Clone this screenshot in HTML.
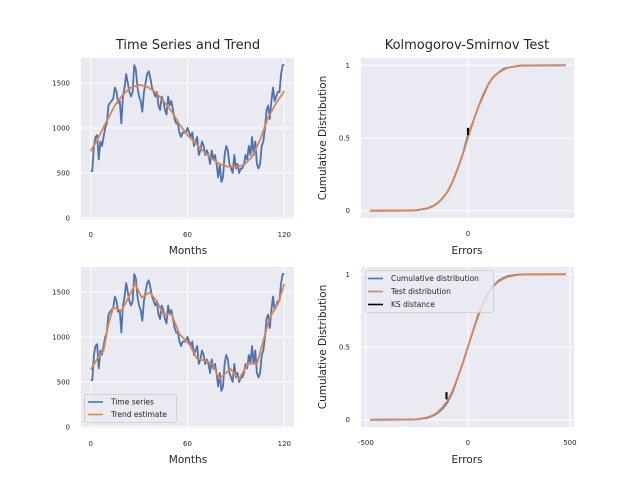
<!DOCTYPE html>
<html><head><meta charset="utf-8"><style>
html,body{margin:0;padding:0;background:#fff;}
svg{display:block;font-family:"DejaVu Sans","Liberation Sans",sans-serif;}
</style></head><body>
<svg id="fig" width="640" height="480" viewBox="0 0 640 480"></svg>
<script>
// ---- data ----
const months = [];
for (let i = 0; i <= 120; i++) months.push(i);
const seriesValues = [
520,520,800,900,920,650,850,800,900,1000,
1050,1250,1280,1300,1330,1450,1400,1280,1300,1050,
1350,1450,1600,1500,1400,1350,1400,1700,1650,1450,
1350,1300,1180,1400,1500,1600,1630,1550,1450,1400,
1350,1400,1250,1200,1350,1300,1200,1150,1350,1250,
1300,1200,1100,1050,1050,950,900,950,950,950,
1000,950,900,950,800,850,900,700,750,850,
800,700,750,700,600,750,650,700,600,450,
600,400,450,700,800,750,600,550,500,700,
550,600,500,550,550,600,700,650,800,700,
900,700,850,600,550,600,800,850,1000,1200,
1250,1100,1300,1450,1300,1350,1400,1400,1600,1700,
1700];
const trendMonths = [0,5,10,15,20,25,30,35,40,45,50,55,60,65,70,75,80,85,90,95,100,105,110,115,120];
const trendValues = [740,900,1080,1250,1370,1450,1480,1460,1400,1300,1190,1040,920,830,740,660,600,570,570,590,680,870,1120,1280,1410];
const trend2Months = [0,4,8,11,14,19,23.5,27.5,31.6,36.7,40.8,45,50,55,61,66,71,75.5,79.6,86.7,92,98,103,107,111,116,120];
const trend2Values = [633,756,848,1144,1330,1292,1440,1590,1440,1496,1404,1255,1255,1033,922,756,737,700,533,644,533,718,700,960,1218,1367,1590];
const tsYTicks = [0,500,1000,1500];
const tsXTicks = [0,60,120];
const ksX = [-480,-300,-250,-200,-175,-150,-125,-100,-75,-50,-25,0,25,50,75,100,125,150,175,200,250,300,480];
const ksEmp1 = [0,0.001,0.004,0.016,0.03,0.05,0.085,0.13,0.2,0.29,0.39,0.52,0.61,0.71,0.79,0.87,0.92,0.95,0.975,0.985,0.997,0.999,1];
const ksTest = [0,0.001,0.003,0.015,0.028,0.05,0.085,0.13,0.2,0.29,0.39,0.5,0.61,0.71,0.8,0.87,0.92,0.95,0.97,0.985,0.997,0.999,1];
const ksEmp2 = [0,0.001,0.003,0.012,0.025,0.045,0.075,0.12,0.19,0.29,0.39,0.5,0.61,0.72,0.8,0.87,0.92,0.955,0.975,0.99,0.998,1,1];
const ksDist1 = [0, 0.52, 0.57];
const ksDist2 = [-105, 0.14, 0.19];
const ksYTicks = [0,0.5,1];
const ksYLabels = ["0","0.5","1"];
const ksXTicksTop = [0];
const ksXTicksBot = [-500,0,500];

// ---- helpers ----
const NS = "http://www.w3.org/2000/svg";
const fig = document.getElementById("fig");
function mk(tag, attrs, parent){
  const e = document.createElementNS(NS, tag);
  for (const k in attrs) e.setAttribute(k, attrs[k]);
  (parent||fig).appendChild(e);
  return e;
}
function axes(name, x0, y0, w, h, xmin, xmax, ymin, ymax){
  const g = mk("g", {});
  
  
  const bg = mk("rect", {x:x0, y:y0, width:w, height:h, fill:"#eaeaf2"}, g);
  
  
  return {g, sx: v => x0 + (v - xmin) / (xmax - xmin) * w, sy: v => y0 + h - (v - ymin) / (ymax - ymin) * h, x0, y0, w, h};
}
function grid(ax, xt, yt, xl, yl){
  xt.forEach((t,i) => {
    const l = mk("line", {x1:ax.sx(t), x2:ax.sx(t), y1:ax.y0, y2:ax.y0+ax.h, stroke:"#fff", "stroke-width":1}, ax.g);
    
    
    const tx = mk("text", {x:ax.sx(t), y:ax.y0+ax.h+18, "font-size":7, fill:"#262626", "text-anchor":"middle"}, ax.g);
    tx.textContent = xl ? xl[i] : String(t);
    
    
  });
  yt.forEach((t,i) => {
    const l = mk("line", {x1:ax.x0, x2:ax.x0+ax.w, y1:ax.sy(t), y2:ax.sy(t), stroke:"#fff", "stroke-width":1}, ax.g);
    
    
    const tx = mk("text", {x:ax.x0-11, y:ax.sy(t)+2.5, "font-size":7, fill:"#262626", "text-anchor":"end"}, ax.g);
    tx.textContent = yl ? yl[i] : String(t);
    
    
  });
}
function line(ax, xs, ys, color, name, w){
  const d = xs.map((x,i) => (i ? "L" : "M") + ax.sx(x).toFixed(2) + "," + ax.sy(ys[i]).toFixed(2)).join("");
  const p = mk("path", {d, fill:"none", stroke:color, "stroke-width":w||1.8, "stroke-linejoin":"round"}, ax.g);
  
  
}
function text(str, x, y, size, name, rot){
  const t = mk("text", {x, y, "font-size":size, fill:"#262626", "text-anchor":"middle"});
  if (rot) t.setAttribute("transform", "rotate(-90 " + x + " " + y + ")");
  t.textContent = str;
  
  
}
const BLUE = "#4c72b0", ORANGE = "#dd8452";

// ---- top-left ----
const a1 = axes("time-series-top-axes", 81, 58, 213, 161, -6, 126, -12, 1778);
grid(a1, tsXTicks, tsYTicks);
line(a1, months, seriesValues, BLUE, "time-series-line");
line(a1, trendMonths, trendValues, ORANGE, "trend-line");
text("Time Series and Trend", 188, 49, 13, "title-time-series");
text("Months", 188, 254, 10.5, "x-axis-title");

// ---- bottom-left ----
const a3 = axes("time-series-bottom-axes", 81, 267, 213, 161, -6, 126, -12, 1778);
grid(a3, tsXTicks, tsYTicks);
line(a3, months, seriesValues, BLUE, "time-series-line");
line(a3, trend2Months, trend2Values, ORANGE, "trend-estimate-line");
text("Months", 188, 463, 10.5, "x-axis-title");
{
  const lg = mk("g", {});  
  mk("rect", {x:84.5, y:394.5, width:92, height:28, rx:2, fill:"#eaeaf2", "fill-opacity":0.8, stroke:"#cccccc", "stroke-width":0.8}, lg);
  [["Time series",BLUE,404.5],["Trend estimate",ORANGE,417]].forEach(e => {
    const ln = mk("line", {x1:88, x2:103, y1:e[2]-2.5, y2:e[2]-2.5, stroke:e[1], "stroke-width":1.6}, lg);
     
    const t = mk("text", {x:111, y:e[2], "font-size":7.5, fill:"#262626"}, lg);
    t.textContent = e[0];
     
  });
}

// ---- top-right ----
const a2 = axes("ks-top-axes", 361, 58, 213, 160, -524, 520, -0.05, 1.05);
grid(a2, ksXTicksTop, ksYTicks, null, ksYLabels);
line(a2, ksX, ksEmp1, BLUE, "cumulative-distribution-line");
line(a2, ksX, ksTest, ORANGE, "test-distribution-line");
line(a2, [ksDist1[0], ksDist1[0]], [ksDist1[1], ksDist1[2]], "#000", "ks-distance-line", 2);
text("Kolmogorov-Smirnov Test", 467, 49, 13, "title-ks-test");
text("Errors", 467, 254, 10.5, "x-axis-title");
text("Cumulative Distribution", 326, 138, 10.5, "y-axis-title", true);

// ---- bottom-right ----
const a4 = axes("ks-bottom-axes", 361, 267, 213, 160, -524, 520, -0.05, 1.05);
grid(a4, ksXTicksBot, ksYTicks, null, ksYLabels);
line(a4, ksX, ksEmp2, BLUE, "cumulative-distribution-line");
line(a4, ksX, ksTest, ORANGE, "test-distribution-line");
line(a4, [ksDist2[0], ksDist2[0]], [ksDist2[1], ksDist2[2]], "#000", "ks-distance-line", 2);
text("Errors", 467, 463, 10.5, "x-axis-title");
text("Cumulative Distribution", 326, 347, 10.5, "y-axis-title", true);
{
  const lg = mk("g", {});  
  mk("rect", {x:365.5, y:270.5, width:128, height:42, rx:2, fill:"#eaeaf2", "fill-opacity":0.8, stroke:"#cccccc", "stroke-width":0.8}, lg);
  [["Cumulative distribution",BLUE,281],["Test distribution",ORANGE,294],["KS distance","#000",307]].forEach(e => {
    const ln = mk("line", {x1:368, x2:383, y1:e[2]-2.5, y2:e[2]-2.5, stroke:e[1], "stroke-width":1.6}, lg);
     
    const t = mk("text", {x:391, y:e[2], "font-size":7.5, fill:"#262626"}, lg);
    t.textContent = e[0];
     
  });
}
</script>
</body></html>
